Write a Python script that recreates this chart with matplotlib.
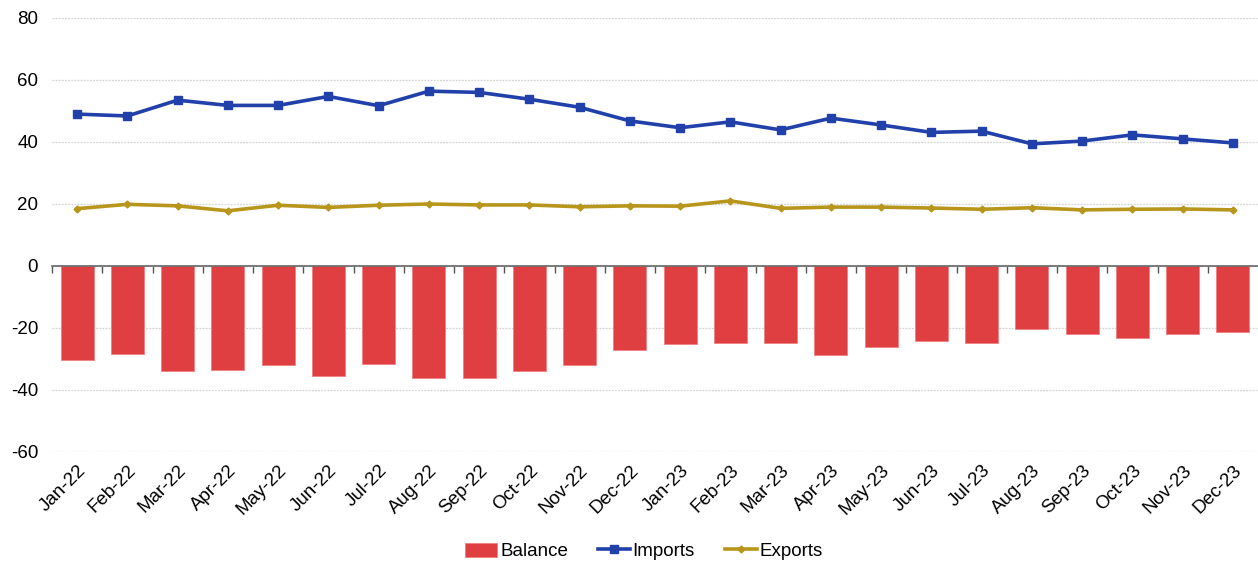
import matplotlib.pyplot as plt
import numpy as np

months = [
    "Jan-22", "Feb-22", "Mar-22", "Apr-22", "May-22", "Jun-22",
    "Jul-22", "Aug-22", "Sep-22", "Oct-22", "Nov-22", "Dec-22",
    "Jan-23", "Feb-23", "Mar-23", "Apr-23", "May-23", "Jun-23",
    "Jul-23", "Aug-23", "Sep-23", "Oct-23", "Nov-23", "Dec-23",
]
imports = [
    49.0, 48.4, 53.5, 51.8, 51.8, 54.7, 51.7, 56.4, 56.0, 53.8, 51.2, 46.8,
    44.6, 46.5, 43.9, 47.7, 45.5, 43.1, 43.5, 39.4, 40.3, 42.3, 41.0, 39.7,
]
exports = [
    18.5, 19.9, 19.4, 17.8, 19.6, 18.9, 19.6, 20.0, 19.7, 19.7, 19.1, 19.4,
    19.3, 21.0, 18.6, 19.0, 19.0, 18.7, 18.3, 18.8, 18.1, 18.3, 18.4, 18.1,
]
balance = [
    -30.2, -28.4, -33.9, -33.6, -32.0, -35.6, -31.7, -36.2, -36.2, -33.9, -31.8, -27.2,
    -25.0, -24.9, -24.9, -28.8, -26.2, -24.1, -24.9, -20.4, -21.9, -23.3, -22.0, -21.2,
]

plt.rc("font", family="Liberation Sans", size=13)
plt.rcParams["axes.unicode_minus"] = False
fig = plt.figure(figsize=(12.58, 5.63), dpi=100)
ax = fig.add_axes([52 / 1258, 1 - 452 / 563, 1 - 52 / 1258, 434 / 563])

x = np.arange(len(months))
red = "#e03f41"
blue = "#2140aa"
gold = "#b8961c"

bars = ax.bar(x, balance, width=0.66, color=red, edgecolor="#f08080", linewidth=0.6,
              label="Balance", zorder=2)
l1, = ax.plot(x, imports, color=blue, lw=2.6, marker="s", ms=6, label="Imports", zorder=3)
l2, = ax.plot(x, exports, color=gold, lw=2.6, marker="D", ms=3.5, label="Exports", zorder=3)

ax.set_xlim(-0.5, len(months) - 0.5)
ax.set_ylim(-60, 80)
ax.set_yticks(range(-60, 81, 20))
ax.yaxis.grid(True, color="#d4d4d4", linestyle=(0, (1.5, 1)), linewidth=0.9)
ax.set_axisbelow(True)
ax.tick_params(axis="y", length=0, pad=10, labelsize=13.5)

for s in ["left", "right", "top"]:
    ax.spines[s].set_visible(False)
ax.spines["bottom"].set_position(("data", 0))
ax.spines["bottom"].set_color("#666666")
ax.spines["bottom"].set_linewidth(1.2)
ax.spines["bottom"].set_zorder(4)

# boundary ticks hang off the zero line
ax.set_xticks(np.arange(len(months)) - 0.5)
ax.set_xticklabels([])
ax.tick_params(axis="x", direction="out", length=5, color="#555555", width=1)

# month labels sit below the plot area
sec = ax.secondary_xaxis(0)
sec.set_xticks(x)
sec.set_xticklabels(months, rotation=45, ha="right", va="top",
                    rotation_mode="anchor", fontsize=13.5)
sec.tick_params(length=0, pad=7)
sec.spines["bottom"].set_visible(False)

fig.legend([bars, l1, l2], ["Balance", "Imports", "Exports"],
           loc="lower center", ncol=3, frameon=False, fontsize=13.5,
           bbox_to_anchor=(0.512, -0.025), handlelength=1.7, handleheight=0.75,
           columnspacing=1.6, handletextpad=0.15)

plt.savefig("out.png", dpi=100)
